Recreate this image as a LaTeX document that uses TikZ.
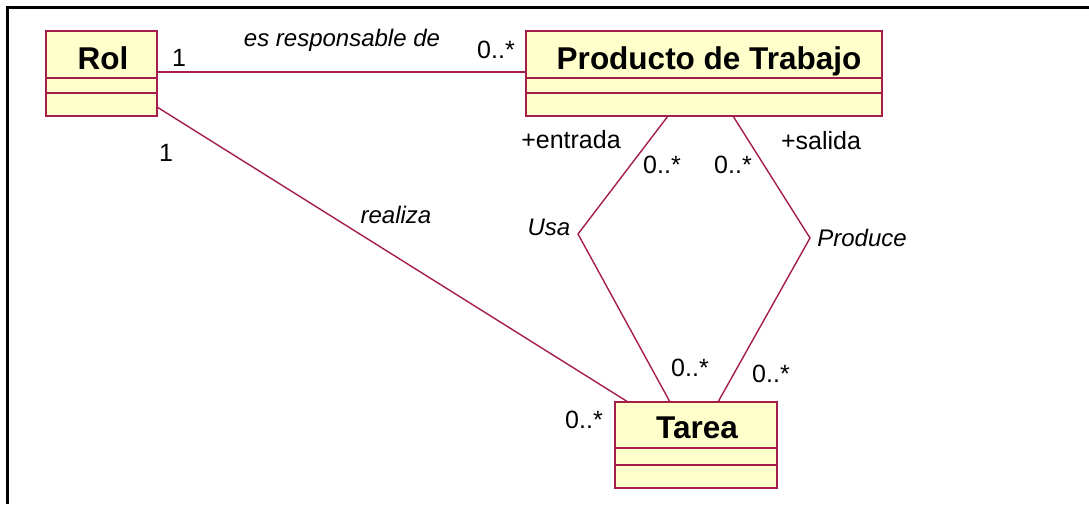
\documentclass[tikz,border=0pt]{standalone}
\usepackage{fontspec}
\setmainfont{Liberation Sans}
\usetikzlibrary{calc}
\definecolor{umlred}{RGB}{165,30,75}
\definecolor{umlfill}{RGB}{255,255,204}
\tikzset{
  clase/.style={draw=umlred,fill=umlfill,line width=1.6pt,anchor=north west,inner sep=0pt,outer sep=0pt},
  nombre/.style={font=\fontsize{31.5}{36}\selectfont\bfseries,anchor=base},
  etiq/.style={font=\fontsize{25}{29}\selectfont,anchor=base},
  verbo/.style={font=\fontsize{24}{28}\selectfont\itshape,anchor=base},
  asoc/.style={draw=umlred,line width=1.4pt},
}
\begin{document}
\begin{tikzpicture}[x=1pt,y=-1pt]
\useasboundingbox (0,0) rectangle (1089,504);
\draw[line width=2.2pt] (7.5,504) -- (7.5,7.5) -- (1089,7.5);
% clases
\node[clase,minimum width=111pt,minimum height=85pt] (rol) at (46,31) {};
\node[clase,minimum width=356pt,minimum height=85pt] (prod) at (526,31) {};
\node[clase,minimum width=162pt,minimum height=86pt] (tarea) at (615,402) {};
\draw[asoc] ($(rol.north west)+(0,47)$) -- ($(rol.north east)+(0,47)$);
\draw[asoc] ($(rol.north west)+(0,62)$) -- ($(rol.north east)+(0,62)$);
\draw[asoc] ($(prod.north west)+(0,47)$) -- ($(prod.north east)+(0,47)$);
\draw[asoc] ($(prod.north west)+(0,62)$) -- ($(prod.north east)+(0,62)$);
\draw[asoc] ($(tarea.north west)+(0,46)$) -- ($(tarea.north east)+(0,46)$);
\draw[asoc] ($(tarea.north west)+(0,63)$) -- ($(tarea.north east)+(0,63)$);
\node[nombre] (nRol) at (103,69) {Rol};
\node[nombre] (nProd) at (709,69) {Producto de Trabajo};
\node[nombre] (nTarea) at (697,438) {Tarea};
% asociaciones
\coordinate (usa) at (578,234);
\coordinate (produce) at (810,238);
\draw[asoc] ($(rol.north east)+(0,41)$) -- ($(prod.north west)+(0,41)$);
\draw[asoc] ($(rol.south east)+(0,-9)$) -- ($(tarea.north west)+(13,0)$);
\draw[asoc] ($(prod.south west)+(142,0)$) -- (usa) -- ($(tarea.north west)+(55,0)$);
\draw[asoc] ($(prod.south west)+(207,0)$) -- (produce) -- ($(tarea.north west)+(103,0)$);
% etiquetas
\node[verbo] (lResp) at (342,46) {es responsable de};
\node[etiq] (mRolA) at (179,66) {1};
\node[etiq] (mProdA) at (496,58) {0..*};
\node[etiq] (mRolB) at (166,161) {1};
\node[verbo] (lRealiza) at (396,223) {realiza};
\node[etiq] (lEntrada) at (571,148) {+entrada};
\node[etiq] (lSalida) at (821,149) {+salida};
\node[etiq] (mUsaA) at (662,173) {0..*};
\node[etiq] (mProdB) at (733,173) {0..*};
\node[verbo] (lUsa) at (549,235) {Usa};
\node[verbo] (lProduce) at (862,246) {Produce};
\node[etiq] (mUsaB) at (690,376) {0..*};
\node[etiq] (mProdC) at (771,382) {0..*};
\node[etiq] (mTarea) at (584,428) {0..*};
\end{tikzpicture}
\end{document}
